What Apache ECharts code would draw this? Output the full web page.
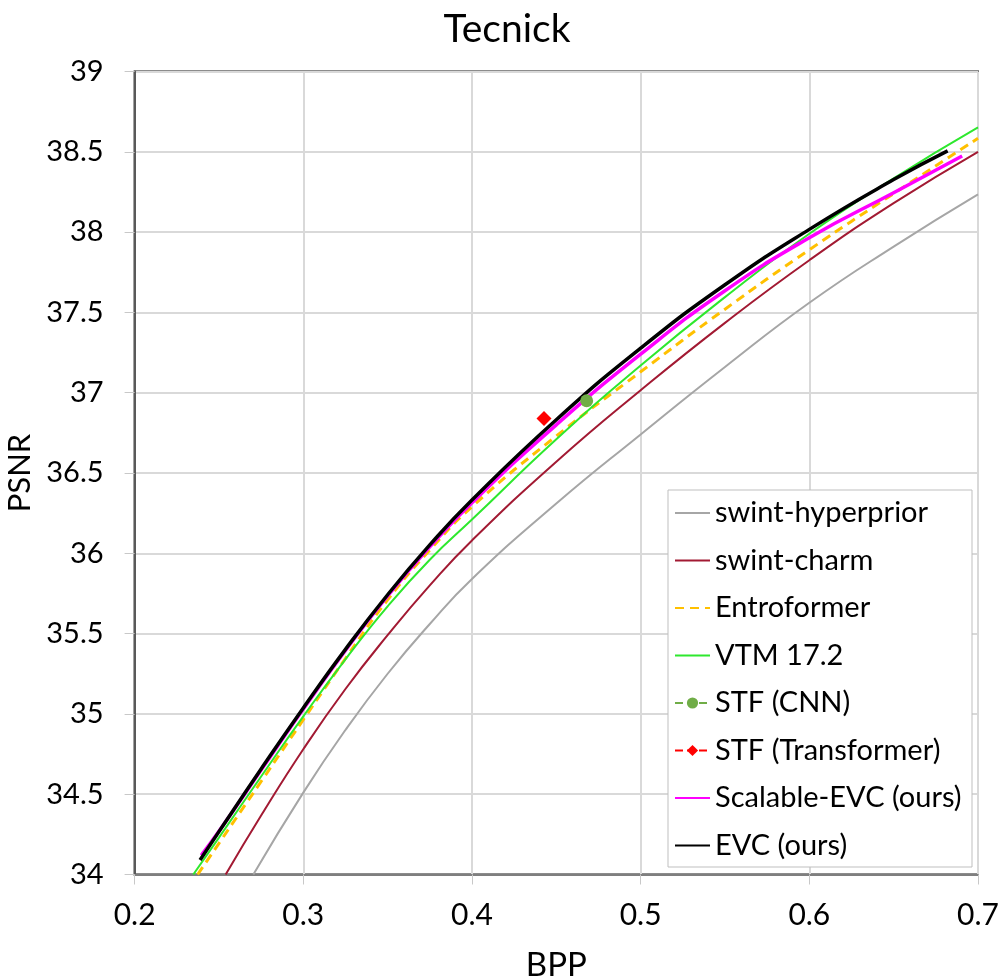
<!DOCTYPE html>
<html>
<head>
<meta charset="utf-8">
<script src="https://cdn.jsdelivr.net/npm/echarts@6/dist/echarts.min.js"></script>
<style>
html,body{margin:0;padding:0;background:#fff;}
#chart{width:1002px;height:979px;}
</style>
</head>
<body>
<div id="chart"></div>
<script>
// ---- data: [BPP, PSNR] ----
const titleText = 'Tecnick';
const xTickMin = 0.2, xTickMax = 0.7, xTickStep = 0.1;
const yTickMin = 34, yTickMax = 39, yTickStep = 0.5;

const swintHyperprior = [[0.2704,34],[0.30,34.51],[0.325,34.90],[0.35,35.25],[0.375,35.56],[0.40,35.84],[0.45,36.31],[0.50,36.74],[0.55,37.16],[0.60,37.56],[0.65,37.91],[0.70,38.235]];
const swintCharm = [[0.254,34],[0.275,34.367],[0.30,34.78],[0.325,35.155],[0.35,35.49],[0.375,35.80],[0.40,36.08],[0.45,36.57],[0.50,37.015],[0.55,37.435],[0.60,37.825],[0.65,38.18],[0.70,38.50]];
const entroformer = [[0.2374,34],[0.25,34.194],[0.275,34.579],[0.30,34.964],[0.325,35.345],[0.35,35.71],[0.375,36.02],[0.40,36.29],[0.45,36.73],[0.50,37.13],[0.55,37.52],[0.60,37.89],[0.65,38.24],[0.70,38.584]];
const vtm = [[0.2348,34],[0.25,34.23],[0.275,34.61],[0.30,34.985],[0.325,35.34],[0.35,35.67],[0.375,35.96],[0.40,36.21],[0.45,36.71],[0.50,37.17],[0.55,37.595],[0.60,37.99],[0.65,38.335],[0.70,38.652]];
const stfCnn = [[0.468,36.95]];
const stfTransformer = [[0.4427,36.84]];
const scalableEvc = [[0.2395,34.12],[0.25,34.27],[0.275,34.65],[0.30,35.03],[0.325,35.395],[0.35,35.735],[0.375,36.04],[0.40,36.315],[0.45,36.80],[0.50,37.24],[0.55,37.635],[0.60,37.965],[0.65,38.245],[0.6906,38.474]];
const evc = [[0.2388,34.09],[0.25,34.267],[0.275,34.657],[0.30,35.037],[0.325,35.402],[0.35,35.742],[0.375,36.052],[0.40,36.332],[0.45,36.832],[0.50,37.277],[0.55,37.672],[0.60,38.017],[0.65,38.327],[0.682,38.506]];

const legendNames = ['swint-hyperprior','swint-charm','Entroformer','VTM 17.2','STF (CNN)','STF (Transformer)','Scalable-EVC (ours)','EVC (ours)'];
const markerSeries = ['STF (CNN)','STF (Transformer)'];

const FONT = 'Lato';
const chart = echarts.init(document.getElementById('chart'), null, {renderer:'canvas'});

function lineSeries(name, data, color, width, type, z){
  return {name, type:'line', data, smooth:0.5, symbol:'none', z:z||2,
    lineStyle:{color, width, type:type||'solid'}, itemStyle:{color}};
}

const option = {
  backgroundColor:'#fff',
  animation:false,
  title:{text:titleText, left:502, textAlign:'center', top:5,
    textStyle:{fontFamily:FONT, fontSize:39, fontWeight:'normal', color:'#000'}},
  grid:{left:134.6, right:24, top:71.5, bottom:104.5, containLabel:false, outerBoundsMode:'none',
    show:true, borderColor:'#1a1a1a', borderWidth:2, backgroundColor:'#fff'},
  xAxis:{type:'value', min:xTickMin, max:xTickMax, interval:xTickStep,
    name:'BPP', nameLocation:'middle', nameGap:74,
    nameTextStyle:{fontFamily:FONT, fontSize:33, color:'#000'},
    axisLine:{show:true, lineStyle:{color:'#7f7f7f', width:2}},
    axisTick:{show:true, inside:false, length:10, lineStyle:{color:'#c8c8c8', width:1}},
    axisLabel:{fontFamily:FONT, fontSize:30, color:'#000', margin:26, formatter:v=>v.toFixed(1)},
    splitLine:{show:true, lineStyle:{color:'#d9d9d9', width:2}}},
  yAxis:{type:'value', min:yTickMin, max:yTickMax, interval:yTickStep,
    name:'PSNR', nameLocation:'middle', nameGap:86, nameRotate:90,
    nameTextStyle:{fontFamily:FONT, fontSize:31, color:'#000'},
    axisLine:{show:true, lineStyle:{color:'#595959', width:2}},
    axisTick:{show:true, inside:false, length:10, lineStyle:{color:'#c8c8c8', width:1}},
    axisLabel:{fontFamily:FONT, fontSize:29, color:'#000', margin:31, formatter:v=>String(+v.toFixed(1))},
    splitLine:{show:true, lineStyle:{color:'#d9d9d9', width:2}}},
  legend:{orient:'vertical', left:674, top:496, itemWidth:35, itemHeight:14, itemGap:13.5,
    z:10, padding:0,
    textStyle:{fontFamily:FONT, fontSize:29, color:'#000', lineHeight:34},
    data:legendNames.map(n => markerSeries.includes(n) ? {name:n} : {name:n, itemStyle:{opacity:0}})},
  graphic:[{type:'rect', z:9, shape:{x:668, y:490, width:304, height:377},
    style:{fill:'#fff', stroke:'#bfbfbf', lineWidth:1}}],
  series:[
    lineSeries('swint-hyperprior', swintHyperprior, '#a6a6a6', 2),
    lineSeries('swint-charm', swintCharm, '#a21a33', 2),
    lineSeries('Entroformer', entroformer, '#ffc000', 3, [9,6]),
    lineSeries('VTM 17.2', vtm, '#2ee82e', 2),
    {name:'STF (CNN)', type:'line', data:stfCnn, symbol:'circle', symbolSize:13, z:5,
      lineStyle:{color:'#70ad47', width:2, type:'dashed'}, itemStyle:{color:'#70ad47'}},
    {name:'STF (Transformer)', type:'line', data:stfTransformer, symbol:'diamond', symbolSize:15, z:5,
      lineStyle:{color:'#ff0000', width:2, type:'dashed'}, itemStyle:{color:'#ff0000'}},
    lineSeries('Scalable-EVC (ours)', scalableEvc, '#ff00ff', 3.5, 'solid', 3),
    lineSeries('EVC (ours)', evc, '#000000', 3.5, 'solid', 4)
  ]
};
chart.setOption(option);
</script>
</body>
</html>
